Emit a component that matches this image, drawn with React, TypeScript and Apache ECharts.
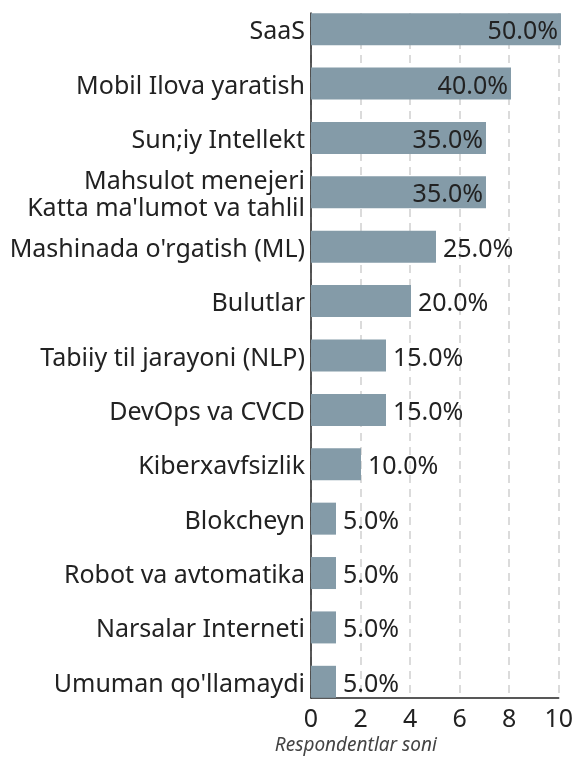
import React, { useEffect, useRef } from "react";
import * as echarts from "echarts";

const categories = [
  "SaaS",
  "Mobil Ilova yaratish",
  "Sun;iy Intellekt",
  "Mahsulot menejeri\nKatta ma'lumot va tahlil",
  "Mashinada o'rgatish (ML)",
  "Bulutlar",
  "Tabiiy til jarayoni (NLP)",
  "DevOps va CVCD",
  "Kiberxavfsizlik",
  "Blokcheyn",
  "Robot va avtomatika",
  "Narsalar Interneti",
  "Umuman qo'llamaydi",
];
const counts = [10, 8, 7, 7, 5, 4, 3, 3, 2, 1, 1, 1, 1];
const percents = [50, 40, 35, 35, 25, 20, 15, 15, 10, 5, 5, 5, 5];
const xMin = 0;
const xMax = 10;
const xInterval = 2;
const xAxisTitle = "Respondentlar soni";

const FONT = "Noto Sans";
const BAR_COLOR = "#849ba8";
const TEXT_COLOR = "#222222";

export default function App() {
  const ref = useRef<HTMLDivElement>(null);
  useEffect(() => {
    if (!ref.current) return;
    const chart = echarts.init(ref.current, null, { renderer: "svg" });
    const data = counts.map((v, i) => {
      const inside = v >= 7;
      return {
        value: v,
        label: {
          show: true,
          position: inside ? "insideRight" : "right",
          distance: inside ? 3 : 7,
          formatter: percents[i].toFixed(1) + "%",
          fontFamily: FONT,
          fontSize: 25,
          color: TEXT_COLOR,
        },
      };
    });
    chart.setOption({
      animation: false,
      textStyle: { fontFamily: FONT },
      grid: [
        { left: 311, top: 2, width: 250, height: 707, containLabel: false },
        { left: 311, top: 13, width: 250, height: 688, containLabel: false },
      ],
      xAxis: [
        { gridIndex: 0, type: "value", min: xMin, max: xMax, show: false },
        {
          gridIndex: 1,
          type: "value",
          min: xMin,
          max: xMax,
          interval: xInterval,
          axisLine: { show: true, lineStyle: { color: "#222", width: 1.5 } },
          axisTick: { show: false },
          axisLabel: {
            fontFamily: FONT,
            fontSize: 25,
            color: TEXT_COLOR,
            margin: 6,
          },
          splitLine: {
            show: true,
            lineStyle: { color: "#d0d0d0", width: 1.5, type: [8, 6] },
          },
          name: xAxisTitle,
          nameLocation: "middle",
          nameGap: 36,
          nameTextStyle: {
            fontFamily: FONT,
            fontSize: 19,
            fontStyle: "italic",
            color: "#444444",
            padding: [0, 158, 0, 0],
          },
        },
      ],
      yAxis: [
        {
          gridIndex: 0,
          type: "category",
          data: categories,
          inverse: true,
          axisLine: { show: false },
          axisTick: { show: false },
          splitLine: { show: false },
          axisLabel: {
            fontFamily: FONT,
            fontSize: 25,
            lineHeight: 27,
            color: TEXT_COLOR,
            margin: 6,
            align: "right",
          },
        },
        {
          gridIndex: 1,
          type: "value",
          min: 0,
          max: 1,
          axisLine: { show: true, lineStyle: { color: "#222", width: 1.5 } },
          axisTick: { show: false },
          axisLabel: { show: false },
          splitLine: { show: false },
        },
      ],
      series: [
        {
          type: "bar",
          xAxisIndex: 0,
          yAxisIndex: 0,
          data,
          barWidth: 32,
          itemStyle: { color: BAR_COLOR },
          z: 3,
        },
      ],
    });
    return () => chart.dispose();
  }, []);
  return (
    <div
      ref={ref}
      style={{ position: "fixed", left: 0, top: 0, width: 576, height: 758 }}
    />
  );
}
